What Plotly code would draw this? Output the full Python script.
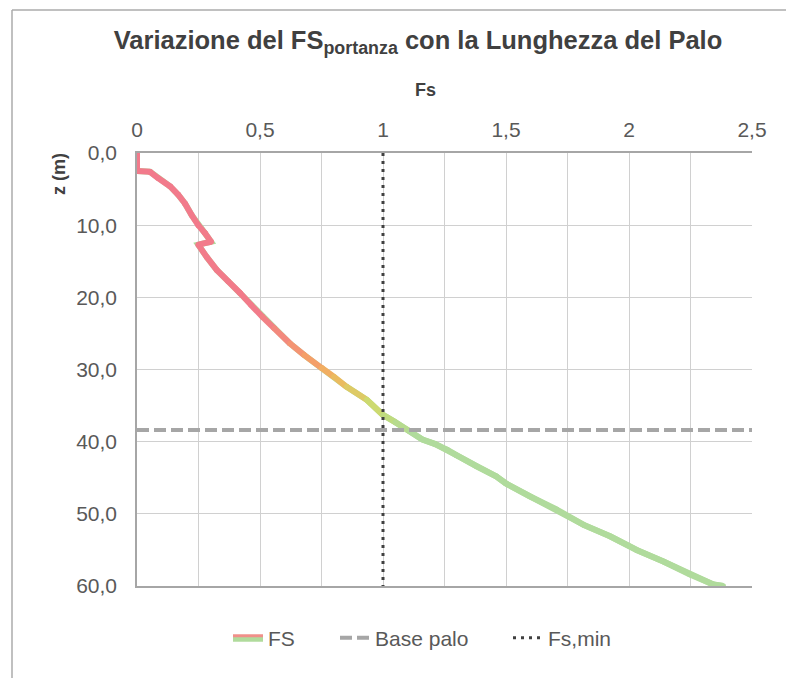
import numpy as np
import plotly.graph_objects as go

# ---- data ----
z_m = [0.0, 2.5, 2.6, 3.5, 4.6, 5.8, 7.0, 8.6, 10.0, 11.1, 12.3, 12.7, 14.4, 16.2,
       17.8, 19.4, 21.0, 22.7, 24.3, 26.4, 28.0, 29.8, 31.0, 32.4, 34.2, 36.3, 37.3,
       38.6, 39.7, 40.3, 41.1, 41.9, 43.3, 44.8, 45.8, 47.6, 49.4, 51.5, 53.1, 55.0,
       56.6, 58.4, 59.8, 60.0]
fs = [0.000, 0.000, 0.053, 0.087, 0.134, 0.168, 0.195, 0.222, 0.249, 0.276, 0.301, 0.249,
      0.283, 0.324, 0.371, 0.419, 0.462, 0.510, 0.558, 0.622, 0.680, 0.751, 0.800, 0.852,
      0.934, 1.000, 1.050, 1.110, 1.160, 1.210, 1.260, 1.300, 1.375, 1.460, 1.500, 1.598,
      1.706, 1.814, 1.923, 2.031, 2.140, 2.248, 2.343, 2.383]
base_palo_z = 38.4
fs_min = 1.0
z_range = [0, 60]
fs_range = [0, 2.5]
fs_ticks = [0, 0.5, 1, 1.5, 2, 2.5]

# ---- styling ----
grad_z = [0, 22, 25, 29, 31, 33, 35, 37, 39, 60]
grad_rgb = [(242, 122, 140), (242, 124, 138), (243, 135, 128), (245, 160, 105),
            (240, 180, 95), (225, 200, 100), (208, 218, 110), (190, 220, 130),
            (176, 219, 156), (176, 219, 156)]


def col_at(z):
    r = np.interp(z, grad_z, [c[0] for c in grad_rgb])
    g = np.interp(z, grad_z, [c[1] for c in grad_rgb])
    b = np.interp(z, grad_z, [c[2] for c in grad_rgb])
    return f"rgb({int(r)},{int(g)},{int(b)})"


fig = go.Figure()

# base continuous line (fills joints)
fig.add_trace(go.Scatter(x=fs, y=z_m, mode="lines", showlegend=False,
                         line=dict(color=col_at(60), width=6), hoverinfo="skip"))
# gradient segments
for i in range(len(z_m) - 1):
    zm = 0.5 * (z_m[i] + z_m[i + 1])
    c = col_at(zm)
    fig.add_trace(go.Scatter(x=fs[i:i + 2], y=z_m[i:i + 2], mode="lines+markers",
                             showlegend=False, hoverinfo="skip",
                             line=dict(color=c, width=6),
                             marker=dict(color=c, size=5.5, line=dict(width=0))))

# legend entry for FS (line on top, fill below -> two-tone symbol)
fig.add_trace(go.Scatter(x=[None], y=[None], name="FS", mode="lines", fill="tozeroy",
                         fillcolor="rgb(176,219,156)", legend="legend",
                         line=dict(color="rgb(240,144,138)", width=3)))

# Base palo
fig.add_trace(go.Scatter(x=fs_range, y=[base_palo_z, base_palo_z], mode="lines",
                         name="Base palo", legend="legend2",
                         line=dict(color="#A6A6A6", width=4, dash="12px,5px")))
# Fs,min
fig.add_trace(go.Scatter(x=[fs_min, fs_min], y=z_range, mode="lines", name="Fs,min",
                         legend="legend3",
                         line=dict(color="#404040", width=3, dash="3px,5px")))

O = 8  # page offset of the plot div
W, H = 794 - O, 678 - O
ml, mr, mt, mb = 137 - O, 794 - 752, 153 - O, 678 - 586
pw, ph = W - ml - mr, H - mt - mb


def px_x(x):  # reference pixel -> paper
    return (x - O - ml) / pw


def px_y(y):
    return (H - mb - (y - O)) / ph


tick_font = dict(family="Liberation Sans, Arial, sans-serif", size=21, color="#595959")
leg_font = dict(family="Liberation Sans, Arial, sans-serif", size=21, color="#595959")


def leg(x_text):
    return dict(orientation="h", x=px_x(x_text - 40), xanchor="left", y=px_y(638),
                yanchor="middle", font=leg_font, bgcolor="rgba(0,0,0,0)",
                borderwidth=0, itemwidth=30)


fig.update_layout(
    width=W, height=H,
    margin=dict(l=ml, r=mr, t=mt, b=mb),
    paper_bgcolor="white", plot_bgcolor="white",
    separators=",.",
    title=dict(text="<b>Variazione del FS<sub>portanza</sub> con la Lunghezza del Palo</b>",
               x=(418 - O) / W, xref="container", xanchor="center",
               y=1 - (40 - O) / H, yref="container", yanchor="middle",
               font=dict(family="Liberation Sans Narrow, Arial Narrow, Liberation Sans, sans-serif",
                         size=25.5, color="#404040")),
    xaxis=dict(range=fs_range, side="top", tickvals=fs_ticks,
               showgrid=True, gridcolor="#D0D0D0", gridwidth=1.3,
               minor=dict(dtick=0.25, tick0=0, showgrid=True, gridcolor="#D0D0D0", gridwidth=1.3),
               showline=True, mirror=True, linecolor="#A6A6A6", linewidth=1.5,
               ticks="", tickfont=tick_font, zeroline=False, ticklabelstandoff=6),
    yaxis=dict(range=[z_range[1], z_range[0]], dtick=10, tickformat=".1f",
               showgrid=True, gridcolor="#D0D0D0", gridwidth=1.3,
               showline=True, mirror=False, linecolor="#A6A6A6", linewidth=1.5,
               ticks="", tickfont=tick_font, zeroline=False, ticklabelstandoff=14),
    legend=leg(268),
    legend2=leg(375),
    legend3=leg(548),
    showlegend=True,
)

fig.add_annotation(text="<b>Fs</b>", x=px_x(425), y=px_y(90), xref="paper", yref="paper",
                   showarrow=False, xanchor="center", yanchor="middle",
                   font=dict(family="Liberation Sans, Arial, sans-serif", size=18, color="#404040"))
fig.add_annotation(text="<b>z (m)</b>", x=px_x(59), y=px_y(174), xref="paper", yref="paper",
                   showarrow=False, xanchor="center", yanchor="middle", textangle=-90,
                   font=dict(family="Liberation Sans, Arial, sans-serif", size=18, color="#404040"))

# outer chart border
fig.add_shape(type="line", xref="paper", yref="paper", x0=px_x(12), x1=px_x(12),
              y0=px_y(10), y1=px_y(700), line=dict(color="#ABABAB", width=1.5))
fig.add_shape(type="line", xref="paper", yref="paper", x0=px_x(12), x1=px_x(820),
              y0=px_y(10), y1=px_y(10), line=dict(color="#ABABAB", width=1.5))

fig.write_html("out.html")
